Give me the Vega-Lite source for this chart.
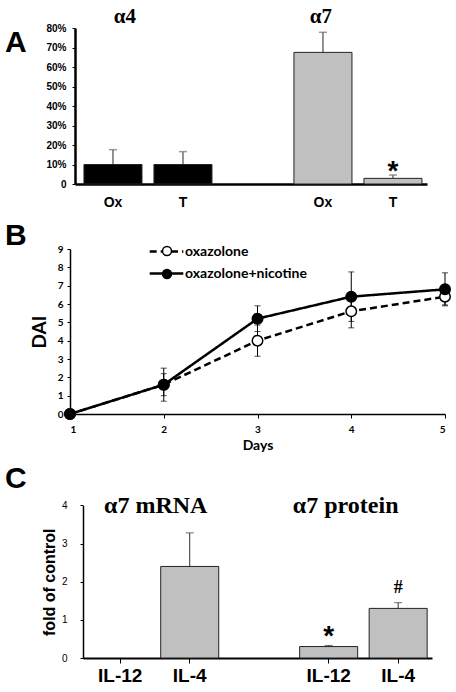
{
  "$schema": "https://vega.github.io/schema/vega-lite/v6.json",
  "padding": {"left": 5, "top": 6, "right": 0, "bottom": 0},
  "bounds": "flush",
  "center": true,
  "spacing": 65,
  "resolve": {
    "scale": {"fill": "independent", "strokeDash": "independent", "x": "independent", "y": "independent"},
    "legend": {"fill": "independent", "strokeDash": "independent"}
  },
  "config": {
    "view": {"stroke": null},
    "axis": {"grid": false, "domainColor": "black", "tickColor": "black", "labelColor": "black", "titleColor": "black", "labelOverlap": false},
    "title": {"font": "Liberation Sans", "fontWeight": "bold", "fontSize": 30, "color": "black", "anchor": "start", "frame": "group", "offset": 0, "baseline": "alphabetic"}
  },
  "vconcat": [
    {
      "width": 365,
      "height": 156,
      "title": {"text": "A", "dx": -70, "dy": 56},
      "data": {"values": [
        {"slot": "a4Ox", "group": "α4", "value": 0.10, "hi": 0.176},
        {"slot": "a4T", "group": "α4", "value": 0.10, "hi": 0.166},
        {"slot": "a7Ox", "group": "α7", "value": 0.675, "hi": 0.778},
        {"slot": "a7T", "group": "α7", "value": 0.029, "hi": 0.046, "note": "*"}
      ]},
      "encoding": {
        "x": {
          "field": "slot", "type": "nominal",
          "scale": {"domain": ["a4Ox", "a4T", "gap", "a7Ox", "a7T"], "range": [0, 352], "paddingInner": 0.171, "paddingOuter": 0.1, "align": 0.64},
          "axis": {
            "values": ["a4Ox", "a4T", "a7Ox", "a7T"],
            "labelExpr": "datum.value === 'a4Ox' || datum.value === 'a7Ox' ? 'Ox' : 'T'",
            "ticks": false, "labelPadding": 11, "labelAngle": 0,
            "labelFont": "Liberation Sans", "labelFontWeight": "bold", "labelFontSize": 14,
            "domainWidth": 2.5, "title": null
          }
        },
        "y": {
          "field": "value", "type": "quantitative",
          "scale": {"domain": [0, 0.8], "nice": false},
          "axis": {
            "values": [0, 0.1, 0.2, 0.3, 0.4, 0.5, 0.6, 0.7, 0.8],
            "labelOverlap": false,
            "labelExpr": "datum.value === 0 ? '0' : format(datum.value, '.0%')",
            "labelFont": "Liberation Sans", "labelFontWeight": "bold", "labelFontSize": 10,
            "tickSize": 3, "labelPadding": 6, "domainWidth": 2.5, "title": null
          }
        }
      },
      "layer": [
        {
          "mark": {"type": "rule", "color": "#6f6f6f", "strokeWidth": 1.5},
          "encoding": {"y2": {"field": "hi"}}
        },
        {
          "mark": {"type": "tick", "size": 8, "thickness": 1.5, "color": "#6f6f6f"},
          "encoding": {
            "y": {
              "field": "hi", "type": "quantitative",
              "axis": {
                "values": [0, 0.1, 0.2, 0.3, 0.4, 0.5, 0.6, 0.7, 0.8],
                "labelOverlap": false,
                "labelExpr": "datum.value === 0 ? '0' : format(datum.value, '.0%')",
                "labelFont": "Liberation Sans", "labelFontWeight": "bold", "labelFontSize": 10,
                "tickSize": 3, "labelPadding": 6, "domainWidth": 2.5, "title": null
              }
            }
          }
        },
        {
          "mark": {"type": "bar", "stroke": "#222222", "strokeWidth": 1},
          "encoding": {
            "fill": {"field": "group", "type": "nominal", "scale": {"domain": ["α4", "α7"], "range": ["#000000", "#c0c0c0"]}, "legend": null}
          }
        },
        {
          "transform": [{"filter": "datum.note"}],
          "mark": {"type": "text", "font": "Liberation Sans", "fontWeight": "bold", "fontSize": 28, "baseline": "alphabetic", "dy": 5, "color": "black"},
          "encoding": {
            "y": {
              "field": "hi", "type": "quantitative",
              "axis": {
                "values": [0, 0.1, 0.2, 0.3, 0.4, 0.5, 0.6, 0.7, 0.8],
                "labelOverlap": false,
                "labelExpr": "datum.value === 0 ? '0' : format(datum.value, '.0%')",
                "labelFont": "Liberation Sans", "labelFontWeight": "bold", "labelFontSize": 10,
                "tickSize": 3, "labelPadding": 6, "domainWidth": 2.5, "title": null
              }
            },
            "text": {"field": "note"}
          }
        },
        {
          "transform": [{"filter": "datum.slot === 'a4Ox'"}],
          "mark": {"type": "text", "font": "Liberation Serif", "fontWeight": "bold", "fontSize": 21, "baseline": "alphabetic", "dx": 12, "dy": -5, "color": "black"},
          "encoding": {
            "y": {
              "datum": 0.8, "type": "quantitative",
              "axis": {
                "values": [0, 0.1, 0.2, 0.3, 0.4, 0.5, 0.6, 0.7, 0.8],
                "labelOverlap": false,
                "labelExpr": "datum.value === 0 ? '0' : format(datum.value, '.0%')",
                "labelFont": "Liberation Sans", "labelFontWeight": "bold", "labelFontSize": 10,
                "tickSize": 3, "labelPadding": 6, "domainWidth": 2.5, "title": null
              }
            },
            "text": {"field": "group"}
          }
        },
        {
          "transform": [{"filter": "datum.slot === 'a7Ox'"}],
          "mark": {"type": "text", "font": "Liberation Serif", "fontWeight": "bold", "fontSize": 21, "baseline": "alphabetic", "dx": -2, "dy": -5, "color": "black"},
          "encoding": {
            "y": {
              "datum": 0.8, "type": "quantitative",
              "axis": {
                "values": [0, 0.1, 0.2, 0.3, 0.4, 0.5, 0.6, 0.7, 0.8],
                "labelOverlap": false,
                "labelExpr": "datum.value === 0 ? '0' : format(datum.value, '.0%')",
                "labelFont": "Liberation Sans", "labelFontWeight": "bold", "labelFontSize": 10,
                "tickSize": 3, "labelPadding": 6, "domainWidth": 2.5, "title": null
              }
            },
            "text": {"field": "group"}
          }
        }
      ]
    },
    {
      "width": 375,
      "height": 165,
      "title": {"text": "B", "dx": -65, "dy": 11},
      "data": {"values": [
        {"day": 1, "series": "oxazolone", "dai": 0, "err": 0},
        {"day": 2, "series": "oxazolone", "dai": 1.6, "err": 0.6},
        {"day": 3, "series": "oxazolone", "dai": 4.0, "err": 0.85},
        {"day": 4, "series": "oxazolone", "dai": 5.6, "err": 0.9},
        {"day": 5, "series": "oxazolone", "dai": 6.4, "err": 0.45},
        {"day": 1, "series": "oxazolone+nicotine", "dai": 0, "err": 0},
        {"day": 2, "series": "oxazolone+nicotine", "dai": 1.6, "err": 0.9},
        {"day": 3, "series": "oxazolone+nicotine", "dai": 5.2, "err": 0.7},
        {"day": 4, "series": "oxazolone+nicotine", "dai": 6.4, "err": 1.35},
        {"day": 5, "series": "oxazolone+nicotine", "dai": 6.8, "err": 0.9}
      ]},
      "encoding": {
        "x": {
          "field": "day", "type": "quantitative",
          "scale": {"domain": [1, 5], "nice": false, "zero": false},
          "axis": {
            "values": [1, 2, 3, 4, 5], "format": "d", "tickSize": 4, "labelPadding": 6,
            "labelFont": "Lato", "labelFontWeight": "bold", "labelFontSize": 10,
            "title": "Days", "titleFont": "Lato", "titleFontWeight": "bold", "titleFontSize": 14, "titlePadding": 4,
            "domainWidth": 1.5
          }
        },
        "y": {
          "field": "dai", "type": "quantitative",
          "scale": {"domain": [0, 9], "nice": false},
          "axis": {
            "values": [0, 1, 2, 3, 4, 5, 6, 7, 8, 9], "tickSize": 3, "labelPadding": 4,
            "labelFont": "Lato", "labelFontWeight": "bold", "labelFontSize": 10,
            "title": "DAI", "titleFont": "Lato", "titleFontWeight": "bold", "titleFontSize": 19, "titlePadding": 8,
            "domainWidth": 1.5
          }
        }
      },
      "layer": [
        {
          "transform": [{"filter": "datum.err > 0"}],
          "mark": {"type": "errorbar", "ticks": {"size": 6, "color": "black", "strokeWidth": 1}, "rule": {"color": "black", "strokeWidth": 1}},
          "encoding": {"y": {"field": "dai", "type": "quantitative"}, "yError": {"field": "err"}}
        },
        {
          "mark": {"type": "line", "color": "black", "strokeWidth": 2.5},
          "encoding": {
            "strokeDash": {
              "field": "series", "type": "nominal",
              "scale": {"domain": ["oxazolone", "oxazolone+nicotine"], "range": [[7, 4], [1, 0]]},
              "legend": {
                "title": null, "orient": "none", "legendX": 89, "legendY": -5,
                "symbolType": "M-2.8,0H-0.75M0.75,0H2.8",
                "symbolSize": 144, "symbolStrokeColor": "black", "symbolStrokeWidth": 2.5, "labelOffset": 11,
                "labelFont": "Lato", "labelFontWeight": "bold", "labelFontSize": 14, "labelColor": "black", "rowPadding": 7, "padding": 0
              }
            }
          }
        },
        {
          "mark": {"type": "point", "filled": true, "size": 110, "stroke": "black", "strokeWidth": 1.5, "opacity": 1},
          "encoding": {
            "fill": {
              "field": "series", "type": "nominal",
              "scale": {"domain": ["oxazolone", "oxazolone+nicotine"], "range": ["white", "black"]},
              "legend": {
                "title": null, "orient": "top-left", "offset": -5,
                "symbolType": "circle", "symbolSize": 80, "symbolOffset": 95, "symbolStrokeColor": "black", "symbolStrokeWidth": 1.5, "symbolOpacity": 1,
                "labelExpr": "' '",
                "labelFont": "Lato", "labelFontWeight": "bold", "labelFontSize": 14, "labelOpacity": 0, "rowPadding": 7, "padding": 0
              }
            }
          }
        }
      ]
    },
    {
      "width": 349,
      "height": 179,
      "title": {"text": "C", "dx": -78, "dy": 19},
      "data": {"values": [
        {"slot": "m4", "assay": "α7 mRNA", "value": 2.4, "hi": 3.28},
        {"slot": "p12", "assay": "α7 protein", "value": 0.3, "hi": 0.33, "note": "*"},
        {"slot": "p4", "assay": "α7 protein", "value": 1.3, "hi": 1.45, "note": "#"}
      ]},
      "encoding": {
        "x": {
          "field": "slot", "type": "nominal",
          "scale": {"domain": ["m12", "m4", "gap", "p12", "p4"], "range": [0, 349], "paddingInner": 0.165, "paddingOuter": 0.094, "align": 0.63},
          "axis": {
            "values": ["m12", "m4", "p12", "p4"],
            "labelExpr": "datum.value === 'm12' || datum.value === 'p12' ? 'IL-12' : 'IL-4'",
            "tickSize": 5, "labelPadding": 3, "labelAngle": 0,
            "labelFont": "Liberation Sans", "labelFontWeight": "bold", "labelFontSize": 19,
            "domainWidth": 2, "title": null
          }
        }
      },
      "layer": [
        {
          "mark": {"type": "rule", "color": "#333333", "strokeWidth": 1},
          "encoding": {
            "y": {
              "field": "value", "type": "quantitative",
              "scale": {"domain": [0, 4], "range": [179, 26.4], "nice": false},
              "axis": {
                "values": [0, 1, 2, 3, 4], "tickSize": 3, "labelPadding": 13,
                "labelFont": "Liberation Sans", "labelFontSize": 10,
                "title": "fold of control", "titleFont": "Liberation Sans", "titleFontWeight": "bold", "titleFontSize": 16, "titlePadding": 4,
                "domainWidth": 1.5
              }
            },
            "y2": {"field": "hi"}
          }
        },
        {
          "mark": {"type": "tick", "size": 8, "thickness": 1, "color": "#333333"},
          "encoding": {"y": {"field": "hi", "type": "quantitative"}}
        },
        {
          "mark": {"type": "bar", "fill": "#c0c0c0", "stroke": "#222222", "strokeWidth": 1},
          "encoding": {"y": {"field": "value", "type": "quantitative"}}
        },
        {
          "transform": [{"filter": "datum.note === '*'"}],
          "mark": {"type": "text", "font": "Liberation Sans", "fontWeight": "bold", "fontSize": 28, "baseline": "alphabetic", "dy": 0, "color": "black"},
          "encoding": {"y": {"field": "hi", "type": "quantitative"}, "text": {"field": "note"}}
        },
        {
          "transform": [{"filter": "datum.note === '#'"}],
          "mark": {"type": "text", "font": "Liberation Serif", "fontWeight": "bold", "fontSize": 18, "baseline": "alphabetic", "dy": -10, "color": "black"},
          "encoding": {"y": {"field": "hi", "type": "quantitative"}, "text": {"field": "note"}}
        },
        {
          "transform": [{"filter": "datum.slot === 'm4'"}],
          "mark": {"type": "text", "font": "Liberation Serif", "fontWeight": "bold", "fontSize": 24, "baseline": "alphabetic", "dx": -34, "dy": 8, "color": "black"},
          "encoding": {"y": {"datum": 4}, "text": {"field": "assay"}}
        },
        {
          "transform": [{"filter": "datum.slot === 'p12'"}],
          "mark": {"type": "text", "font": "Liberation Serif", "fontWeight": "bold", "fontSize": 24, "baseline": "alphabetic", "dx": 17, "dy": 8, "color": "black"},
          "encoding": {"y": {"datum": 4}, "text": {"field": "assay"}}
        }
      ]
    }
  ]
}
